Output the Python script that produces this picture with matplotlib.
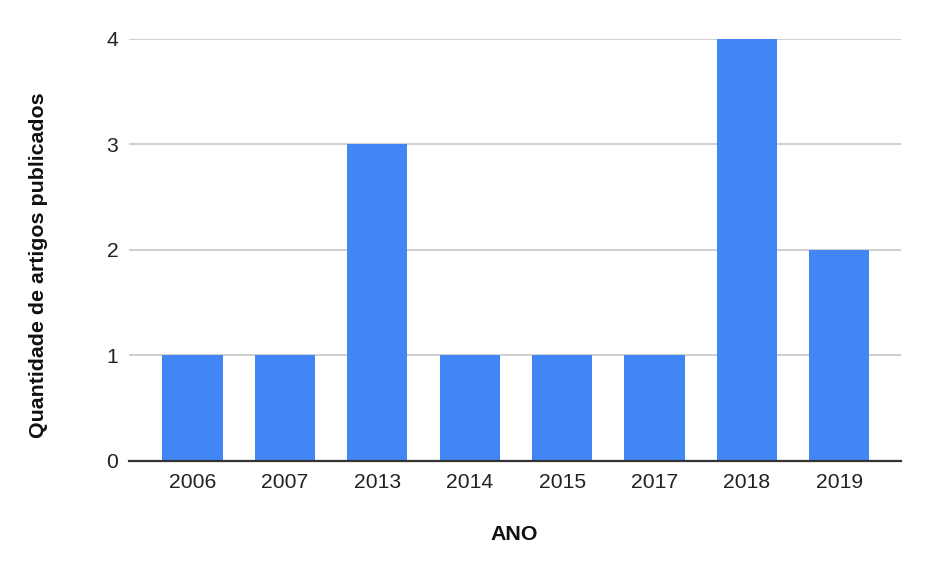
import matplotlib
matplotlib.use("Agg")
import matplotlib.pyplot as plt

years = ["2006", "2007", "2013", "2014", "2015", "2017", "2018", "2019"]
counts = [1, 1, 3, 1, 1, 1, 4, 2]
yticks = [0, 1, 2, 3, 4]

plt.rcParams['font.family'] = ['Liberation Sans', 'DejaVu Sans']

W, H = 929, 576
fig = plt.figure(figsize=(W / 100, H / 100), dpi=100)
ax = fig.add_axes([129.5 / W, 1 - 460.7 / H, (900.7 - 129.5) / W, (460.7 - 38.7) / H])

x = list(range(len(years)))
ax.bar(x, counts, width=0.65, color="#4285F4", zorder=3)
ax.set_xlim(-0.682, 7.665)
ax.set_ylim(0, 4)
ax.set_yticks(yticks)
ax.set_yticklabels([str(v) for v in yticks])
ax.set_xticks(x)
ax.set_xticklabels(years)
ax.grid(axis="y", color="#cccccc", linewidth=1.3, zorder=0)
ax.tick_params(axis="both", length=0, labelsize=15.2, colors="#222222")
ax.tick_params(axis="x", pad=9)
ax.tick_params(axis="y", pad=8)
for s in ["top", "right", "left"]:
    ax.spines[s].set_visible(False)
ax.spines["bottom"].set_color("#333333")
ax.spines["bottom"].set_linewidth(1.6)
ax.spines["bottom"].set_zorder(4)

fig.text(39 / W, 1 - 265 / H, "Quantidade de artigos publicados", rotation=90,
         ha="center", va="center", fontsize=15.4, fontweight="bold", color="#111111")
fig.text(514.5 / W, 1 - 535 / H, "ANO", ha="center", va="center",
         fontsize=15.4, fontweight="bold", color="#111111")

fig.savefig("out.png", dpi=100, facecolor="white")
